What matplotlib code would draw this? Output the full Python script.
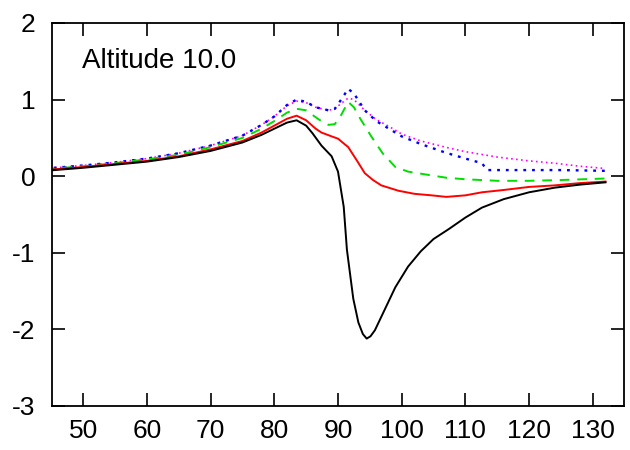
import matplotlib
matplotlib.use("Agg")
import matplotlib.pyplot as plt

# ---- data ----
x_black = [44, 50, 55, 60, 65, 70, 75, 78, 80, 82, 83.5, 85, 86, 87.4, 89, 90, 90.9, 91.4, 92.4, 93.2, 93.9, 94.5, 95.1, 95.8, 97, 99, 101, 103, 105, 107.4, 110, 112.6, 116, 120, 124, 128, 132]
y_black = [0.07, 0.11, 0.15, 0.19, 0.25, 0.33, 0.44, 0.54, 0.62, 0.70, 0.73, 0.66, 0.56, 0.40, 0.26, 0.06, -0.40, -0.96, -1.60, -1.91, -2.06, -2.12, -2.09, -2.01, -1.80, -1.45, -1.18, -0.98, -0.82, -0.69, -0.54, -0.41, -0.30, -0.21, -0.15, -0.11, -0.08]

x_red = [44, 50, 55, 60, 65, 70, 75, 78, 80, 82, 83.5, 85, 86.5, 87.4, 89, 90, 91.6, 93, 94.2, 95.5, 96.8, 99.5, 102, 104.7, 107, 110, 112.6, 116, 120, 124, 128, 132]
y_red = [0.08, 0.12, 0.16, 0.20, 0.26, 0.35, 0.46, 0.57, 0.66, 0.75, 0.79, 0.73, 0.62, 0.57, 0.52, 0.49, 0.38, 0.20, 0.04, -0.05, -0.12, -0.19, -0.23, -0.25, -0.27, -0.25, -0.21, -0.18, -0.14, -0.12, -0.09, -0.07]

x_green = [44, 50, 55, 60, 65, 70, 75, 78, 80, 82, 83.5, 85, 87, 88.5, 89.5, 90.5, 91.6, 92.5, 93.5, 95.3, 97, 99, 101, 104.7, 107, 110, 115, 120, 125, 132]
y_green = [0.09, 0.13, 0.17, 0.22, 0.28, 0.38, 0.50, 0.62, 0.72, 0.83, 0.88, 0.86, 0.74, 0.67, 0.68, 0.80, 0.97, 0.90, 0.75, 0.51, 0.30, 0.12, 0.06, 0.01, -0.02, -0.04, -0.06, -0.06, -0.05, -0.03]

x_blue = [44, 50, 55, 60, 65, 70, 75, 78, 80, 82, 83.5, 85, 86.5, 88.5, 89.5, 90.5, 91.6, 92.5, 94.2, 96, 98, 100, 103, 106.8, 110, 112.6, 113.4, 116, 120, 125, 132]
y_blue = [0.10, 0.14, 0.18, 0.23, 0.30, 0.40, 0.53, 0.67, 0.78, 0.93, 1.00, 0.97, 0.90, 0.86, 0.88, 1.00, 1.14, 1.08, 0.86, 0.72, 0.62, 0.52, 0.42, 0.31, 0.23, 0.17, 0.08, 0.08, 0.08, 0.08, 0.07]

x_mag = [44, 50, 55, 60, 65, 70, 75, 78, 80, 82, 83.5, 85, 86.5, 88.5, 89.5, 90.5, 91.6, 92.5, 94.2, 96, 98, 100, 103, 106.8, 110, 115, 120, 124, 128, 132]
y_mag = [0.10, 0.14, 0.18, 0.23, 0.30, 0.40, 0.53, 0.67, 0.78, 0.92, 0.98, 0.96, 0.90, 0.86, 0.88, 0.95, 1.02, 1.00, 0.86, 0.74, 0.65, 0.55, 0.46, 0.38, 0.32, 0.25, 0.20, 0.17, 0.13, 0.10]

x_ticks = [50, 60, 70, 80, 90, 100, 110, 120, 130]
y_ticks = [-3, -2, -1, 0, 1, 2]
label = "Altitude 10.0"

plt.rcParams['font.family'] = ['Liberation Sans', 'DejaVu Sans']
plt.rcParams['axes.unicode_minus'] = False

fig = plt.figure(figsize=(6.3, 4.5), dpi=100)
ax = fig.add_axes([52 / 630, 44 / 450, 572 / 630, 383 / 450])

ax.plot(x_mag, y_mag, color='#ff00ff', lw=1.2, ls=(0, (1, 2)), solid_joinstyle='round')
ax.plot(x_blue, y_blue, color='#0000ff', lw=1.7, ls=(0, (1.2, 2.5)))
ax.plot(x_green, y_green, color='#00dd00', lw=1.4, ls=(0, (5, 4)))
ax.plot(x_red, y_red, color='#ff0000', lw=1.4, solid_joinstyle='round')
ax.plot(x_black, y_black, color='black', lw=1.4, solid_joinstyle='round')

ax.set_xlim(45.1, 134.9)
ax.set_ylim(-3, 2)
ax.set_xticks(x_ticks)
ax.set_yticks(y_ticks)
ax.tick_params(direction='in', length=9.5, width=1.2, top=True, right=True, labelsize=19)
ax.tick_params(axis='x', pad=9)
ax.tick_params(axis='y', pad=12)
for s in ax.spines.values():
    s.set_linewidth(1.3)

ax.text((82 - 52) / 572, (406 - 61) / 383, label, transform=ax.transAxes,
        fontsize=20, va='center', ha='left')

fig.savefig("out.png", dpi=100)
